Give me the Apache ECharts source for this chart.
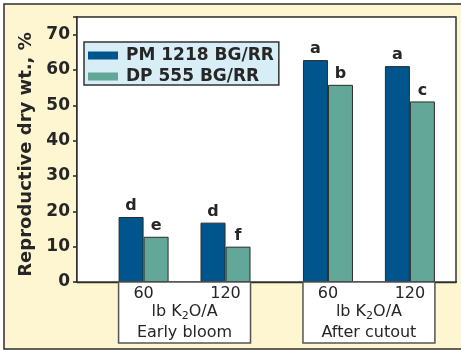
<!DOCTYPE html>
<html><head><meta charset="utf-8">
<script src="https://cdn.jsdelivr.net/npm/echarts@6/dist/echarts.min.js"></script>
<style>html,body{margin:0;padding:0;background:#fff}#c{width:461px;height:351px}</style>
</head><body><div id="c"></div><script>
// ---- data ----
const rates = ["60", "120", "60", "120"];
const timings = ["Early bloom", "After cutout"];
const seriesNames = ["PM 1218 BG/RR", "DP 555 BG/RR"];
const pmValues = [18.4, 16.8, 62.8, 61.1];
const dpValues = [12.8, 10.0, 55.8, 51.1];
const pmLetters = ["d", "d", "a", "a"];
const dpLetters = ["e", "f", "b", "c"];
const yTicks = [0, 10, 20, 30, 40, 50, 60, 70];
const yAxisTitle = "Reproductive dry wt., %";

// ---- layout (slot positions on a fine category axis) ----
const SLOTS = 37;
const SLOT_IDX = [6, 14, 24, 32];
const BAR_W = 25;
const FONT = "'DejaVu Sans', sans-serif";
const INK = '#262626';

function spread(arr) {
  const out = new Array(SLOTS).fill(null);
  SLOT_IDX.forEach((s, i) => { out[s] = arr[i]; });
  return out;
}
const cats = Array.from({length: SLOTS}, (_, i) => String(i));

const chart = echarts.init(document.getElementById('c'), null, {renderer: 'canvas'});

function barSeries(name, values, letters, color) {
  return {
    name: name, type: 'bar', data: spread(values),
    barWidth: BAR_W, barGap: '0%',
    itemStyle: {color: color, borderColor: '#2b2b2b', borderWidth: 1},
    label: {
      show: true, position: 'top', distance: 3,
      fontFamily: FONT, fontWeight: 'bold', fontSize: 16, color: INK,
      formatter: p => letters[SLOT_IDX.indexOf(p.dataIndex)]
    },
    z: 3
  };
}

const option = {
  backgroundColor: '#ffffff',
  animation: false,
  grid: {left: 77, right: 5, top: 17, bottom: 69, show: true,
         backgroundColor: '#ffffff', borderColor: '#333', borderWidth: 1.5, z: 1},
  legend: {
    orient: 'vertical', left: 84, top: 42,
    backgroundColor: '#d8eef6', borderColor: '#333', borderWidth: 1.5,
    padding: [5, 5, 0, 4], itemGap: 4, itemWidth: 30, itemHeight: 8, icon: 'rect',
    itemStyle: {borderWidth: 0},
    textStyle: {fontFamily: FONT, fontWeight: 'bold', fontSize: 17, color: INK,
                lineHeight: 17, padding: [0, 0, 0, 3]},
    data: seriesNames, z: 10
  },
  xAxis: {
    type: 'category', data: cats,
    axisLine: {show: true, lineStyle: {color: '#222', width: 2}},
    axisTick: {show: false}, axisLabel: {show: false}, splitLine: {show: false}
  },
  yAxis: {
    type: 'value', min: yTicks[0], max: 75, interval: 10,
    name: yAxisTitle, nameLocation: 'middle', nameGap: 41, nameRotate: 90,
    nameTextStyle: {fontFamily: FONT, fontWeight: 'bold', fontSize: 18, color: INK,
                    padding: [0, 10, 0, 0]},
    axisLine: {show: true, lineStyle: {color: '#222', width: 2}},
    axisTick: {show: true, length: 4, lineStyle: {color: '#222', width: 1.5}},
    axisLabel: {fontFamily: FONT, fontWeight: 'bold', fontSize: 17, color: INK, margin: 7,
                formatter: v => (yTicks.indexOf(v) >= 0 ? String(v) : '')},
    splitLine: {show: true, lineStyle: {color: '#333', width: 1.3}}
  },
  series: [
    barSeries(seriesNames[0], pmValues, pmLetters, '#00558c'),
    barSeries(seriesNames[1], dpValues, dpLetters, '#62a797')
  ]
};
chart.setOption(option);

// ---- boxed category labels under the axis, placed from the axis scale ----
const cx = i => chart.convertToPixel({xAxisIndex: 0}, SLOT_IDX[i]);
const y0 = chart.convertToPixel({yAxisIndex: 0}, 0);
const txt = {fontFamily: FONT, fontWeight: 'normal', fontSize: 16, fill: INK};
const elements = [{
  type: 'rect', z: -10,
  shape: {x: 4, y: 4, width: 480, height: 345},
  style: {fill: '#fdf6d1', stroke: '#2e2e2e', lineWidth: 1.5}
}];
for (let g = 0; g < 2; g++) {
  const a = cx(2 * g), b = cx(2 * g + 1);
  const left = a - BAR_W, right = b + BAR_W, mid = (left + right) / 2;
  elements.push({
    type: 'rect', z: 5,
    shape: {x: left, y: y0, width: right - left, height: 61},
    style: {fill: '#ffffff', stroke: '#555', lineWidth: 1.5}
  });
  elements.push({type: 'text', z: 6, x: a, y: y0 + 12,
    style: Object.assign({text: rates[2 * g], align: 'center', verticalAlign: 'middle'}, txt)});
  elements.push({type: 'text', z: 6, x: b, y: y0 + 12,
    style: Object.assign({text: rates[2 * g + 1], align: 'center', verticalAlign: 'middle'}, txt)});
  elements.push({type: 'text', z: 6, x: mid, y: y0 + 30,
    style: Object.assign({text: '{m|lb K}{s|2}{m|O/A}', align: 'center', verticalAlign: 'middle',
      rich: {m: {fontFamily: FONT, fontSize: 16, color: INK, lineHeight: 20, verticalAlign: 'middle'},
             s: {fontFamily: FONT, fontSize: 11, color: INK, lineHeight: 10, verticalAlign: 'bottom'}}}, txt)});
  elements.push({type: 'text', z: 6, x: mid, y: y0 + 51,
    style: Object.assign({text: timings[g], align: 'center', verticalAlign: 'middle'}, txt)});
}
chart.setOption({graphic: {elements: elements}});
</script></body></html>
